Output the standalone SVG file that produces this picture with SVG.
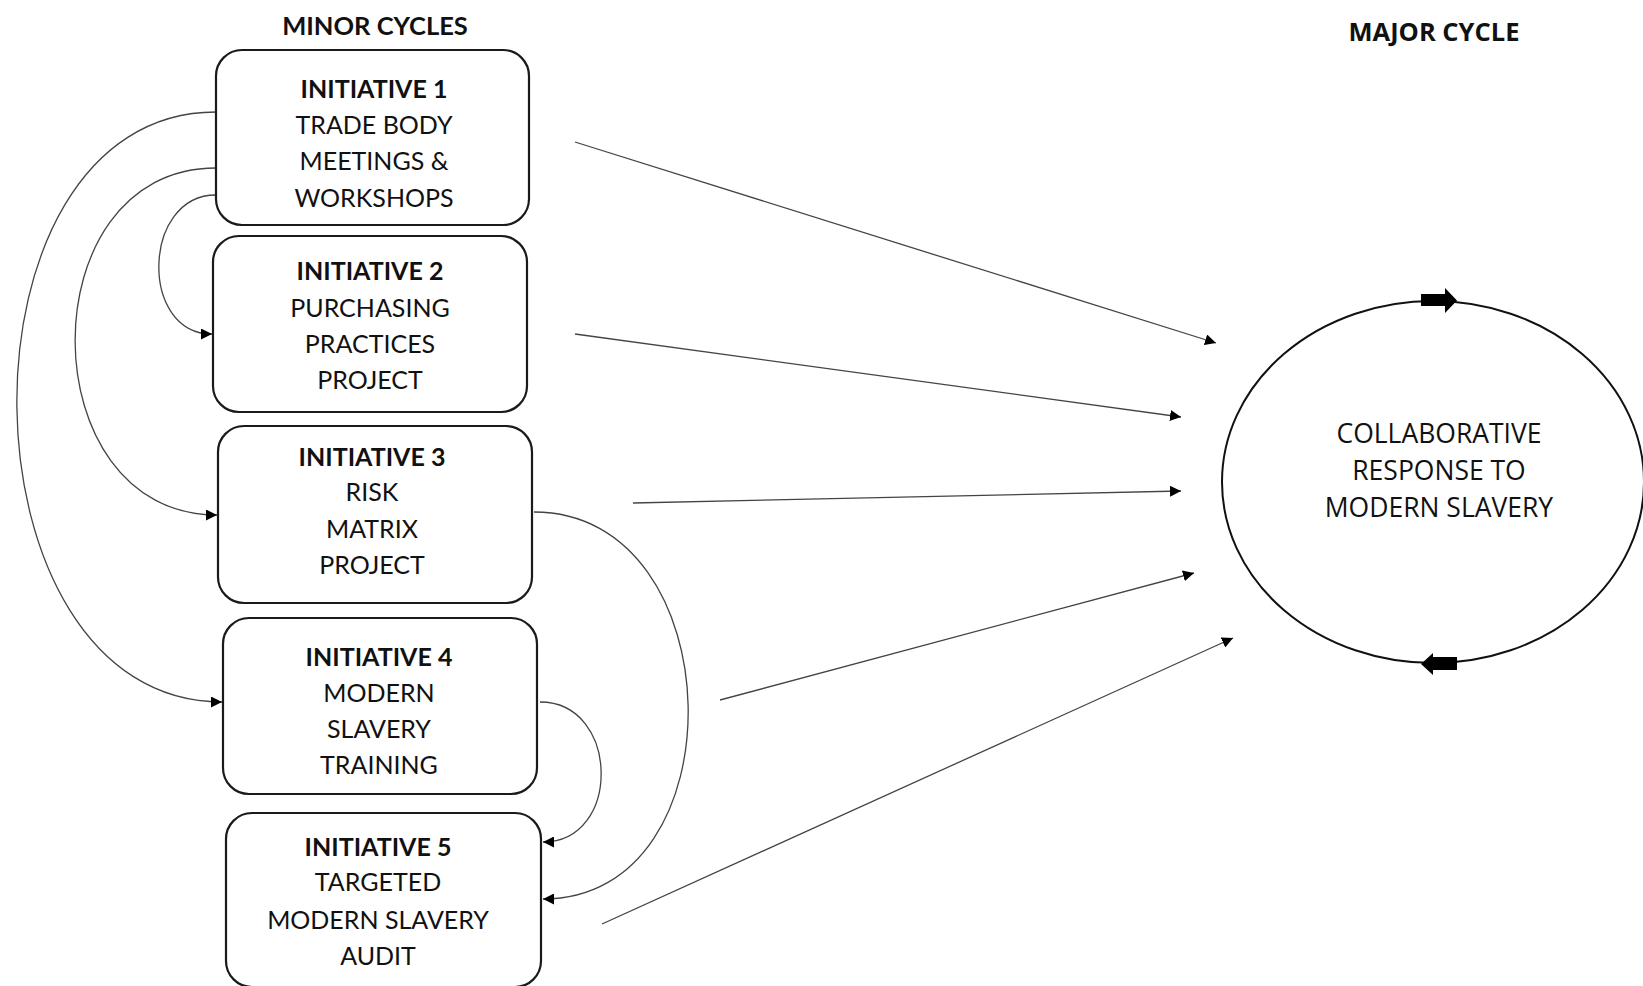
<svg xmlns="http://www.w3.org/2000/svg" width="1643" height="986" viewBox="0 0 1643 986">
<defs>
<style>
.box{fill:#fff;stroke:#1a1a1a;stroke-width:2.2}
.t{font-family:Lato,"Liberation Sans",sans-serif;font-size:25px;fill:#111;text-anchor:middle}
.b{font-weight:bold}
.conn{fill:none;stroke:#444;stroke-width:1.3}
.e{font-family:"Open Sans","Liberation Sans",sans-serif;font-size:26.5px;fill:#111;text-anchor:middle}
</style>
<marker id="ah" viewBox="0 0 10 10" refX="10" refY="5" markerWidth="11" markerHeight="11" markerUnits="userSpaceOnUse" orient="auto">
<path d="M0,0 L10,5 L0,10 z" fill="#000"/>
</marker>
</defs>
<rect width="1643" height="986" fill="#fff"/>

<g id="headings">
<text class="t b" x="375" y="35" style="font-size:25.5px">MINOR CYCLES</text>
<text class="e b" x="1434" y="41" style="font-size:25.5px">MAJOR CYCLE</text>
</g>

<g id="connectors">
<path class="conn" d="M216,112 C-54,112 -47,702 222,702" marker-end="url(#ah)"/>
<path class="conn" d="M216,168 C27,168 29,515 217,515" marker-end="url(#ah)"/>
<path class="conn" d="M216,195 C142,195 139,334 212,334" marker-end="url(#ah)"/>
<path class="conn" d="M534,512 C734,512 742,899 543,899" marker-end="url(#ah)"/>
<path class="conn" d="M540,702 C620,702 622,842 543,842" marker-end="url(#ah)"/>
<line class="conn" x1="575" y1="142" x2="1216" y2="343" marker-end="url(#ah)"/>
<line class="conn" x1="575" y1="334" x2="1181" y2="417" marker-end="url(#ah)"/>
<line class="conn" x1="633" y1="503" x2="1181" y2="491" marker-end="url(#ah)"/>
<line class="conn" x1="720" y1="700" x2="1194" y2="573" marker-end="url(#ah)"/>
<line class="conn" x1="602" y1="924" x2="1233" y2="638" marker-end="url(#ah)"/>
</g>

<g id="initiative1">
<rect class="box" x="216" y="50" width="313" height="175" rx="26"/>
<text class="t b" x="374" y="98">INITIATIVE 1</text>
<text class="t" x="374" y="134">TRADE BODY</text>
<text class="t" x="374" y="170">MEETINGS &amp;</text>
<text class="t" x="374" y="207">WORKSHOPS</text>
</g>
<g id="initiative2">
<rect class="box" x="213" y="236" width="314" height="176" rx="26"/>
<text class="t b" x="370" y="280">INITIATIVE 2</text>
<text class="t" x="370" y="317">PURCHASING</text>
<text class="t" x="370" y="353">PRACTICES</text>
<text class="t" x="370" y="389">PROJECT</text>
</g>
<g id="initiative3">
<rect class="box" x="218" y="426" width="314" height="177" rx="26"/>
<text class="t b" x="372" y="466">INITIATIVE 3</text>
<text class="t" x="372" y="501">RISK</text>
<text class="t" x="372" y="538">MATRIX</text>
<text class="t" x="372" y="574">PROJECT</text>
</g>
<g id="initiative4">
<rect class="box" x="223" y="618" width="314" height="176" rx="26"/>
<text class="t b" x="379" y="666">INITIATIVE 4</text>
<text class="t" x="379" y="702">MODERN</text>
<text class="t" x="379" y="738">SLAVERY</text>
<text class="t" x="379" y="774">TRAINING</text>
</g>
<g id="initiative5">
<rect class="box" x="226" y="813" width="315" height="174" rx="26"/>
<text class="t b" x="378" y="856">INITIATIVE 5</text>
<text class="t" x="378" y="891">TARGETED</text>
<text class="t" x="378" y="929">MODERN SLAVERY</text>
<text class="t" x="378" y="965">AUDIT</text>
</g>

<g id="major-cycle">
<ellipse cx="1433" cy="482" rx="211" ry="181" fill="none" stroke="#111" stroke-width="2"/>
<path d="M1421,294 H1445 V288 L1457,300.5 L1445,313 V306 H1421 z" fill="#000"/>
<path d="M1457,657 H1433 V653 L1421,664 L1433,675 V670 H1457 z" fill="#000"/>
<text class="e" x="1439" y="443">COLLABORATIVE</text>
<text class="e" x="1439" y="480">RESPONSE TO</text>
<text class="e" x="1439" y="517">MODERN SLAVERY</text>
</g>
</svg>
